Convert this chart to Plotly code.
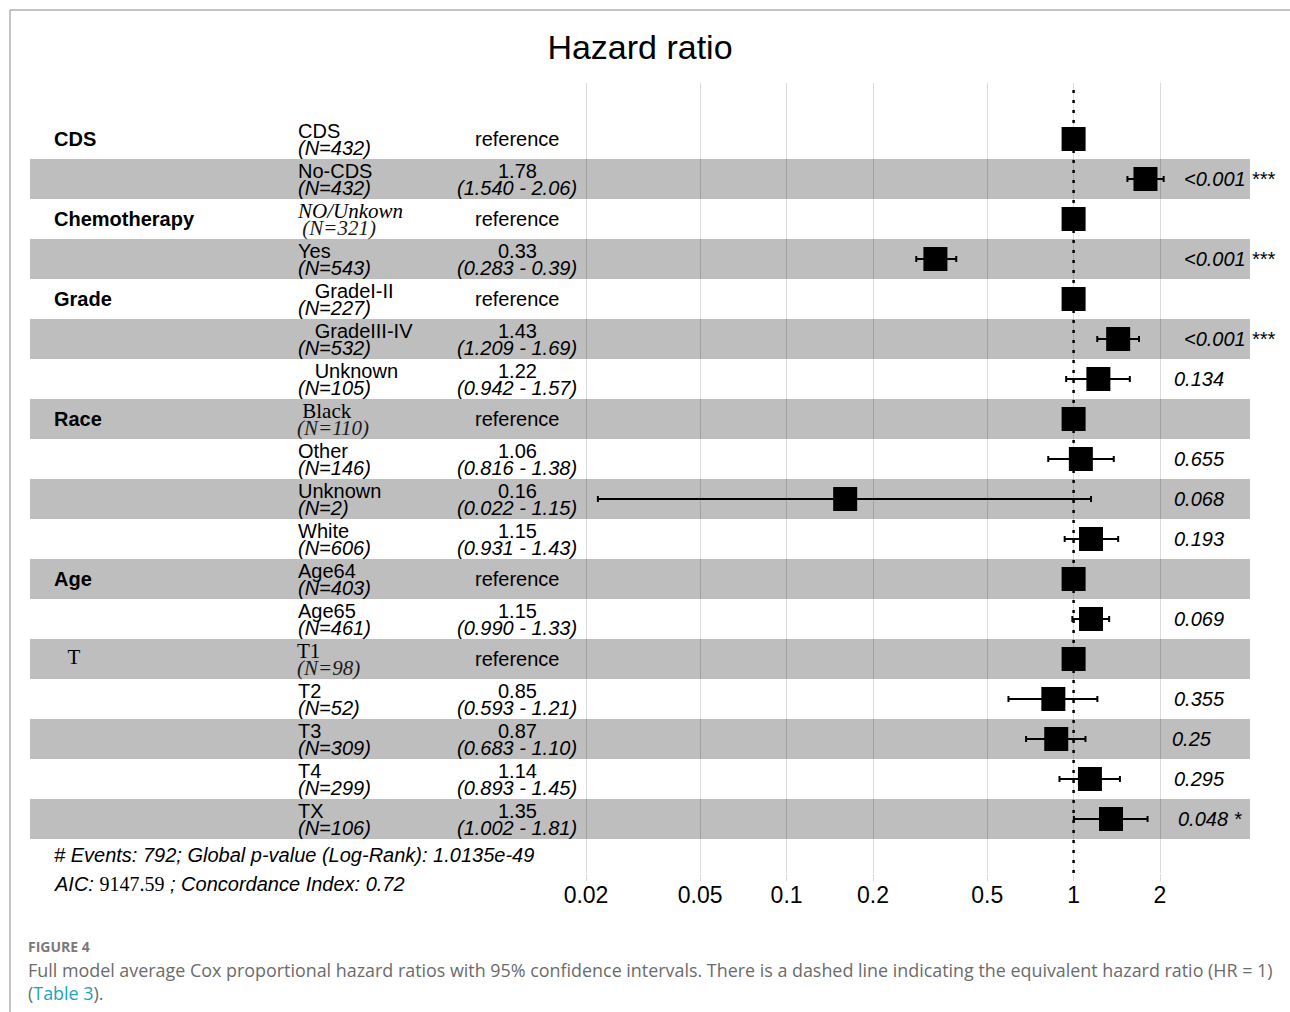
import plotly.graph_objects as go

# ---------------- data ----------------
groups = ["CDS", "CDS", "Chemotherapy", "Chemotherapy", "Grade", "Grade", "Grade",
          "Race", "Race", "Race", "Race", "Age", "Age", "T", "T", "T", "T", "T"]
levels = ["CDS", "No-CDS", "NO/Unkown", "Yes", "   GradeI-II", "   GradeIII-IV", "   Unknown",
          " Black", "Other", "Unknown", "White", "Age64", "Age65",
          "T1", "T2", "T3", "T4", "TX"]
n_obs = [432, 432, 321, 543, 227, 532, 105, 110, 146, 2, 606, 403, 461, 98, 52, 309, 299, 106]
hazard = [1, 1.78, 1, 0.33, 1, 1.43, 1.22, 1, 1.06, 0.16, 1.15, 1, 1.15, 1, 0.85, 0.87, 1.14, 1.35]
ci_low = [None, 1.540, None, 0.283, None, 1.209, 0.942, None, 0.816, 0.022, 0.931,
          None, 0.990, None, 0.593, 0.683, 0.893, 1.002]
ci_high = [None, 2.06, None, 0.39, None, 1.69, 1.57, None, 1.38, 1.15, 1.43,
           None, 1.33, None, 1.21, 1.10, 1.45, 1.81]
p_values = ["", "<0.001", "", "<0.001", "", "<0.001", "0.134", "", "0.655", "0.068", "0.193",
            "", "0.069", "", "0.355", "0.25", "0.295", "0.048"]
stars = ["", "***", "", "***", "", "***", "", "", "", "", "", "", "", "", "", "", "", "*"]
tick_values = [0.02, 0.05, 0.1, 0.2, 0.5, 1, 2]
tick_labels = ["0.02", "0.05", "0.1", "0.2", "0.5", "1", "2"]
footer_events = "# Events: 792; Global p-value (Log-Rank): 1.0135e-49"
footer_aic = "9147.59"
footer_cindex = "0.72"

# ---------------- styling ----------------
W, H = 1290, 1012
PLOT_TOP, PLOT_BOTTOM = 83, 873          # vertical extent of the forest panel
ROW0, ROW_H = 139, 40                     # centre of first row, row pitch
DECADE_PX, ONE_PX = 287.0, 1073.6         # log-axis scale
SANS = "Liberation Sans, Arial, sans-serif"
SERIF = "Liberation Serif, Times New Roman, serif"
FS = 20
BAND = "#bebebe"

# some labels were typeset in a serif face
serif_level = {"NO/Unkown": "italic", " Black": "normal", "T1": "normal"}
serif_n = {"NO/Unkown", " Black", "T1"}
serif_group = {"T"}

n_rows = len(levels)
rows = list(range(n_rows))


def paper_y(p):
    return (PLOT_BOTTOM - p) / (PLOT_BOTTOM - PLOT_TOP)


def px_x(p):
    return p / W


def nb(s):
    return s.replace(" ", "\u00a0")


fig = go.Figure()

# alternating grey bands
shapes = []
for i in rows:
    if i % 2 == 1:
        shapes.append(dict(type="rect", xref="paper", yref="y",
                           x0=px_x(30), x1=px_x(1250), y0=i - 0.5, y1=i + 0.5,
                           fillcolor=BAND, line=dict(width=0), layer="below"))

# reference line at HR = 1
shapes.append(dict(type="line", xref="x", yref="paper", x0=1, x1=1, y0=0, y1=1,
                   line=dict(color="black", width=2.5, dash="3px,7px"), layer="below"))

# outer frame (top and left)
shapes.append(dict(type="line", xref="paper", yref="paper", x0=px_x(10), x1=1.0,
                   y0=paper_y(10), y1=paper_y(10), line=dict(color="#8a8a8a", width=1)))
shapes.append(dict(type="line", xref="paper", yref="paper", x0=px_x(10), x1=px_x(10),
                   y0=paper_y(10), y1=paper_y(H), line=dict(color="#8a8a8a", width=1)))

# estimates with confidence intervals
est_idx = [i for i in rows if ci_low[i] is not None]
ref_idx = [i for i in rows if ci_low[i] is None]

fig.add_trace(go.Scatter(
    x=[hazard[i] for i in est_idx], y=est_idx, mode="markers",
    marker=dict(symbol="square", size=24, color="black", line=dict(width=0)),
    error_x=dict(type="data", symmetric=False,
                 array=[ci_high[i] - hazard[i] for i in est_idx],
                 arrayminus=[hazard[i] - ci_low[i] for i in est_idx],
                 color="black", thickness=2, width=3),
    hoverinfo="skip", showlegend=False))

fig.add_trace(go.Scatter(
    x=[hazard[i] for i in ref_idx], y=ref_idx, mode="markers",
    marker=dict(symbol="square", size=24, color="black", line=dict(width=0)),
    hoverinfo="skip", showlegend=False))

ann = []
LINE1, LINE2 = -8.5 / ROW_H, 9.0 / ROW_H
LEVEL_X = 296

# variable names (on the reference row of each block)
seen = set()
for i, g in enumerate(groups):
    if g in seen:
        continue
    seen.add(g)
    if g in serif_group:
        ann.append(dict(text=nb("  " + g), x=px_x(55), y=i - 0.05, xanchor="left",
                        yanchor="middle", font=dict(family=SERIF, size=FS + 1, color="black")))
    else:
        ann.append(dict(text="<b>" + g + "</b>", x=px_x(52), y=i, xanchor="left",
                        yanchor="middle", font=dict(family=SANS, size=FS, color="black")))

# level names and counts
for i in rows:
    lv = levels[i]
    if lv in serif_level:
        style = serif_level[lv]
        txt = nb(lv.strip() if style == "italic" else lv)
        if style == "italic":
            txt = "<i>" + txt + "</i>"
        ann.append(dict(text=txt, x=px_x(LEVEL_X - 1), y=i + LINE1, xanchor="left",
                        yanchor="middle", font=dict(family=SERIF, size=FS + 1, color="black")))
    else:
        ann.append(dict(text=nb(lv), x=px_x(LEVEL_X), y=i + LINE1, xanchor="left",
                        yanchor="middle", font=dict(family=SANS, size=FS, color="black")))
    ntxt = "(N=%d)" % n_obs[i]
    if lv in serif_n:
        lead = " " if lv == "NO/Unkown" else ""
        ann.append(dict(text="<i>" + nb(lead + ntxt) + "</i>", x=px_x(LEVEL_X - 1), y=i + LINE2,
                        xanchor="left", yanchor="middle",
                        font=dict(family=SERIF, size=FS + 1, color="#1a1a1a")))
    else:
        ann.append(dict(text="<i>" + ntxt + "</i>", x=px_x(LEVEL_X), y=i + LINE2,
                        xanchor="left", yanchor="middle",
                        font=dict(family=SANS, size=FS, color="black")))

# estimate column
for i in rows:
    if ci_low[i] is None:
        ann.append(dict(text="reference", x=px_x(517), y=i, xanchor="center", yanchor="middle",
                        font=dict(family=SANS, size=FS, color="black")))
    else:
        ann.append(dict(text="%.2f" % hazard[i], x=px_x(517), y=i + LINE1, xanchor="center",
                        yanchor="middle", font=dict(family=SANS, size=FS, color="black")))
        ann.append(dict(text="<i>(%.3f - %.2f)</i>" % (ci_low[i], ci_high[i]), x=px_x(517),
                        y=i + LINE2, xanchor="center", yanchor="middle",
                        font=dict(family=SANS, size=FS, color="black")))

# p-values (left-justified with a width-proportional offset)
for i in rows:
    if not p_values[i]:
        continue
    label = p_values[i] + (" " + stars[i] if stars[i] else "")
    left = 1162 + 0.2 * len(label) * 10
    ann.append(dict(text="<i>" + label + "</i>", x=px_x(left), y=i, xanchor="left",
                    yanchor="middle", font=dict(family=SANS, size=FS, color="black")))

# model summary
ann.append(dict(text="<i>" + footer_events + "</i>", x=px_x(52), y=paper_y(855), yref="paper",
                xanchor="left", yanchor="middle", font=dict(family=SANS, size=FS, color="black")))
ann.append(dict(text="<i>AIC: </i><span style='font-family:Liberation Serif, serif'>" + footer_aic +
                "</span><i> ; Concordance Index: " + footer_cindex + "</i>",
                x=px_x(52), y=paper_y(884), yref="paper", xanchor="left", yanchor="middle",
                font=dict(family=SANS, size=FS, color="black")))

# figure caption
CAP = "Open Sans, Lato, sans-serif"
ann.append(dict(text="<b>FIGURE 4</b>", x=px_x(26), y=paper_y(946), yref="paper", xanchor="left",
                yanchor="middle", font=dict(family=CAP, size=14, color="#7a7a7a")))
ann.append(dict(text="Full model average Cox proportional hazard ratios with 95% confidence intervals. "
                     "There is a dashed line indicating the equivalent hazard ratio (HR = 1)",
                x=px_x(26), y=paper_y(970), yref="paper", xanchor="left", yanchor="middle",
                font=dict(family=CAP, size=17.9, color="#6b6b6b")))
ann.append(dict(text="(<span style='color:#1ba3bb'>Table 3</span>).",
                x=px_x(26), y=paper_y(993), yref="paper", xanchor="left", yanchor="middle",
                font=dict(family=CAP, size=17.9, color="#6b6b6b")))

for a in ann:
    a.setdefault("xref", "paper")
    a.setdefault("yref", "y")
    a["showarrow"] = False

x_lo = (0 - ONE_PX) / DECADE_PX
x_hi = (W - ONE_PX) / DECADE_PX
y_lo = (PLOT_TOP - ROW0) / ROW_H
y_hi = (PLOT_BOTTOM - ROW0) / ROW_H

fig.update_layout(
    width=W, height=H,
    margin=dict(l=0, r=0, t=PLOT_TOP, b=H - PLOT_BOTTOM, pad=0),
    paper_bgcolor="white", plot_bgcolor="rgba(0,0,0,0)",
    title=dict(text="Hazard ratio", x=640 / W, xanchor="center", xref="paper",
               y=1 - 47 / H, yanchor="middle", yref="container",
               font=dict(family=SANS, size=34, color="black")),
    xaxis=dict(type="log", range=[x_lo, x_hi], tickvals=tick_values, ticktext=tick_labels,
               showgrid=True, gridcolor="rgba(0,0,0,0.15)", gridwidth=1,
               ticks="outside", ticklen=7, tickcolor="rgba(0,0,0,0.15)", tickwidth=1,
               ticklabelstandoff=-6,
               tickfont=dict(family=SANS, size=23, color="black"),
               showline=False, zeroline=False, fixedrange=True),
    yaxis=dict(range=[y_hi, y_lo], visible=False, showgrid=False, zeroline=False, fixedrange=True),
    shapes=shapes,
    annotations=ann,
)

fig.write_html("out.html")
